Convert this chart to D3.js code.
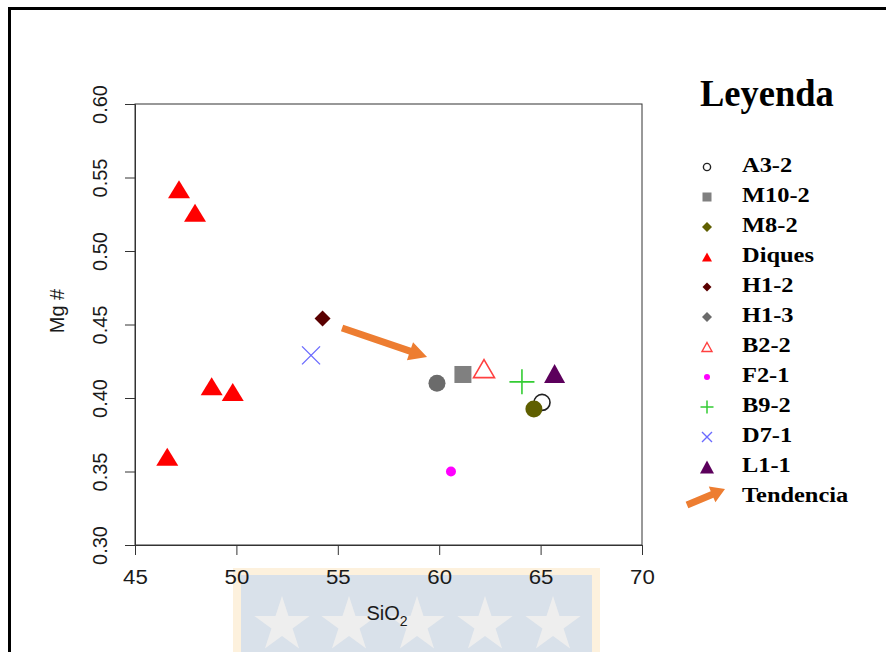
<!DOCTYPE html>
<html>
<head>
<meta charset="utf-8">
<script src="https://cdn.jsdelivr.net/npm/d3@7"></script>
<style>
  html, body { margin: 0; padding: 0; background: #fff; }
  svg { display: block; }
</style>
</head>
<body>
<svg id="chart" width="886" height="652"></svg>
<script>
// Dike samples (Diques)
const diquesSiO2 = [46.59, 47.17, 47.96, 48.78, 49.82];
const diquesMg = [0.360, 0.542, 0.526, 0.408, 0.404];

// Individual samples
const sampleNames = ["A3-2", "M10-2", "M8-2", "H1-2", "H1-3", "B2-2", "F2-1", "B9-2", "D7-1", "L1-1"];
const sampleSiO2 = [65.07, 61.17, 64.67, 54.25, 59.89, 62.21, 60.58, 64.08, 53.68, 65.69];
const sampleMg = [0.397, 0.416, 0.3925, 0.454, 0.410, 0.420, 0.350, 0.411, 0.429, 0.4167];

// Trend arrow (start, end) in data units
const trendSiO2 = [55.21, 59.40];
const trendMg = [0.4476, 0.4279];

// Axis ticks
const xTicks = [45, 50, 55, 60, 65, 70];
const yTicks = [0.30, 0.35, 0.40, 0.45, 0.50, 0.55, 0.60];

// Legend entries, in order
const legendLabels = ["A3-2", "M10-2", "M8-2", "Diques", "H1-2", "H1-3", "B2-2", "F2-1", "B9-2", "D7-1", "L1-1", "Tendencia"];

const svg = d3.select("#chart");
const W = 886, H = 652;
const orange = "#ed7d31";
const sans = "Liberation Sans, Arial, sans-serif";
const serif = "Liberation Serif, Times New Roman, serif";

const x = d3.scaleLinear().domain([45, 70]).range([135, 642]);
const y = d3.scaleLinear().domain([0.30, 0.60]).range([545, 104]);

// ---- marker shapes (pixel-sized) ----
function tri(cx, cy, w, h) {
  return `M${cx},${cy - h / 2}L${cx + w / 2},${cy + h / 2}L${cx - w / 2},${cy + h / 2}Z`;
}
function diamond(cx, cy, r) {
  return `M${cx},${cy - r}L${cx + r},${cy}L${cx},${cy + r}L${cx - r},${cy}Z`;
}
const styles = {
  "A3-2":  {shape: "circle", fill: "none", stroke: "#222", sw: 1.6, size: 8},
  "M10-2": {shape: "square", fill: "#808080", stroke: "none", size: 17},
  "M8-2":  {shape: "circle", fill: "#5f5f00", stroke: "none", size: 8.5},
  "Diques":{shape: "tri", fill: "#ff0000", stroke: "none", w: 22, h: 18},
  "H1-2":  {shape: "diamond", fill: "#5a0000", stroke: "none", size: 8},
  "H1-3":  {shape: "circle", fill: "#6b6b6b", stroke: "none", size: 8.5},
  "B2-2":  {shape: "tri", fill: "none", stroke: "#ff4040", sw: 1.6, w: 21, h: 18},
  "F2-1":  {shape: "circle", fill: "#ff00ff", stroke: "none", size: 5},
  "B9-2":  {shape: "plus", stroke: "#33cc33", sw: 1.6, size: 12.5},
  "D7-1":  {shape: "cross", stroke: "#6a6aff", sw: 1.4, size: 9},
  "L1-1":  {shape: "tri", fill: "#5c005c", stroke: "none", w: 21, h: 19}
};

function drawMarker(g, st, cx, cy) {
  if (st.shape === "circle") {
    g.append("circle").attr("cx", cx).attr("cy", cy).attr("r", st.size)
      .attr("fill", st.fill).attr("stroke", st.stroke).attr("stroke-width", st.sw || 0);
  } else if (st.shape === "square") {
    g.append("rect").attr("x", cx - st.size / 2).attr("y", cy - st.size / 2)
      .attr("width", st.size).attr("height", st.size).attr("fill", st.fill);
  } else if (st.shape === "tri") {
    g.append("path").attr("d", tri(cx, cy, st.w, st.h))
      .attr("fill", st.fill).attr("stroke", st.stroke).attr("stroke-width", st.sw || 0)
      .attr("stroke-linejoin", "miter");
  } else if (st.shape === "diamond") {
    g.append("path").attr("d", diamond(cx, cy, st.size)).attr("fill", st.fill);
  } else if (st.shape === "plus") {
    const r = st.size;
    g.append("path").attr("d", `M${cx - r},${cy}L${cx + r},${cy}M${cx},${cy - r}L${cx},${cy + r}`)
      .attr("stroke", st.stroke).attr("stroke-width", st.sw).attr("fill", "none");
  } else if (st.shape === "cross") {
    const r = st.size;
    g.append("path").attr("d", `M${cx - r},${cy - r}L${cx + r},${cy + r}M${cx - r},${cy + r}L${cx + r},${cy - r}`)
      .attr("stroke", st.stroke).attr("stroke-width", st.sw).attr("fill", "none");
  }
}

function arrow(g, x0, y0, x1, y1, shaftW, headW, headL, color) {
  const dx = x1 - x0, dy = y1 - y0, L = Math.hypot(dx, dy);
  const ux = dx / L, uy = dy / L, px = -uy, py = ux;
  const bx = x1 - ux * headL, by = y1 - uy * headL;
  const pts = [
    [x0 + px * shaftW / 2, y0 + py * shaftW / 2],
    [bx + px * shaftW / 2, by + py * shaftW / 2],
    [bx + px * headW / 2, by + py * headW / 2],
    [x1, y1],
    [bx - px * headW / 2, by - py * headW / 2],
    [bx - px * shaftW / 2, by - py * shaftW / 2],
    [x0 - px * shaftW / 2, y0 - py * shaftW / 2]
  ];
  g.append("path").attr("d", "M" + pts.map(p => p.join(",")).join("L") + "Z").attr("fill", color);
}

// ---- background decoration below the axis ----
const deco = svg.append("g");
deco.append("rect").attr("x", 233).attr("y", 568).attr("width", 367).attr("height", 90).attr("fill", "#fdf1dd");
deco.append("rect").attr("x", 241).attr("y", 575).attr("width", 351).attr("height", 90).attr("fill", "#d9e1ea");
const star = d3.symbol().type(d3.symbolStar).size(950);
[282, 349, 417, 485, 553].forEach(cx => {
  deco.append("path").attr("d", star()).attr("transform", `translate(${cx},625)`).attr("fill", "#eeeeee");
});

// ---- outer frame ----
svg.append("path").attr("d", `M9.5,${H}L9.5,8.5L${W},8.5`).attr("fill", "none").attr("stroke", "#000").attr("stroke-width", 3);

// ---- plot box & axes ----
const axisColor = "#333";
svg.append("rect").attr("x", x(45)).attr("y", y(0.60)).attr("width", x(70) - x(45)).attr("height", y(0.30) - y(0.60))
  .attr("fill", "none").attr("stroke", axisColor).attr("stroke-width", 1);

const xAxis = svg.append("g").attr("transform", `translate(0,${y(0.30)})`)
  .call(d3.axisBottom(x).tickValues(xTicks).tickSize(10).tickPadding(14).tickFormat(d3.format("d")));
xAxis.select(".domain").attr("stroke", axisColor);
xAxis.selectAll(".tick line").attr("stroke", axisColor);
xAxis.selectAll(".tick text").attr("font-family", sans).attr("font-size", 21)
  .attr("fill", "#1a1a1a").attr("transform", "scale(1.06,1)");

const yAxis = svg.append("g").attr("transform", `translate(${x(45)},0)`)
  .call(d3.axisLeft(y).tickValues(yTicks).tickSize(10).tickFormat(d3.format(".2f")));
yAxis.select(".domain").attr("stroke", axisColor);
yAxis.selectAll(".tick line").attr("stroke", axisColor);
yAxis.selectAll(".tick text")
  .attr("font-family", sans).attr("font-size", 20).attr("fill", "#1a1a1a")
  .attr("x", null)
  .attr("text-anchor", "middle")
  .attr("transform", "translate(-35,0) rotate(-90)")
  .attr("y", 0).attr("dy", "0.35em");

// axis titles
svg.append("text").attr("transform", "translate(64,311) rotate(-90)")
  .attr("text-anchor", "middle").attr("font-family", sans)
  .attr("font-size", 20).attr("fill", "#1a1a1a").text("Mg #");
const xt = svg.append("text").attr("x", 387).attr("y", 620).attr("text-anchor", "middle")
  .attr("font-family", sans).attr("font-size", 20).attr("fill", "#1a1a1a");
xt.append("tspan").text("SiO");
xt.append("tspan").attr("font-size", 14).attr("dy", 6).text("2");

// ---- data points ----
const pts = svg.append("g");
diquesSiO2.forEach((v, i) => drawMarker(pts, styles["Diques"], x(v), y(diquesMg[i])));
sampleNames.forEach((n, i) => drawMarker(pts, styles[n], x(sampleSiO2[i]), y(sampleMg[i])));

// trend arrow
arrow(svg, x(trendSiO2[0]), y(trendMg[0]), x(trendSiO2[1]), y(trendMg[1]), 7, 19, 18, orange);

// ---- legend ----
const leg = svg.append("g");
leg.append("text").attr("transform", "translate(700,106) scale(0.96,1)")
  .attr("font-family", serif).attr("font-weight", "bold")
  .attr("font-size", 38).attr("fill", "#000").text("Leyenda");

const legStyles = {
  "A3-2":  {shape: "circle", fill: "none", stroke: "#222", sw: 1.4, size: 3.6},
  "M10-2": {shape: "square", fill: "#808080", size: 9},
  "M8-2":  {shape: "diamond", fill: "#5f5f00", size: 5},
  "Diques":{shape: "tri", fill: "#ff0000", stroke: "none", w: 10, h: 9},
  "H1-2":  {shape: "diamond", fill: "#5a0000", size: 4.5},
  "H1-3":  {shape: "diamond", fill: "#6b6b6b", size: 5},
  "B2-2":  {shape: "tri", fill: "none", stroke: "#ff4040", sw: 1.4, w: 10, h: 9},
  "F2-1":  {shape: "circle", fill: "#ff00ff", stroke: "none", size: 3},
  "B9-2":  {shape: "plus", stroke: "#33cc33", sw: 1.5, size: 6.5},
  "D7-1":  {shape: "cross", stroke: "#6a6aff", sw: 1.4, size: 5},
  "L1-1":  {shape: "tri", fill: "#5c005c", stroke: "none", w: 14, h: 13}
};

legendLabels.forEach((lab, i) => {
  const by = 172 + i * 30;
  if (lab === "Tendencia") {
    arrow(leg, 687, by + 3, 725, by - 13, 7, 17, 14, orange);
  } else {
    drawMarker(leg, legStyles[lab], 707, by - 5);
  }
  leg.append("text").attr("transform", `translate(742,${by}) scale(1.11,1)`)
    .attr("font-family", serif).attr("font-weight", "bold")
    .attr("font-size", 22).attr("fill", "#000").text(lab);
});
</script>
</body>
</html>
